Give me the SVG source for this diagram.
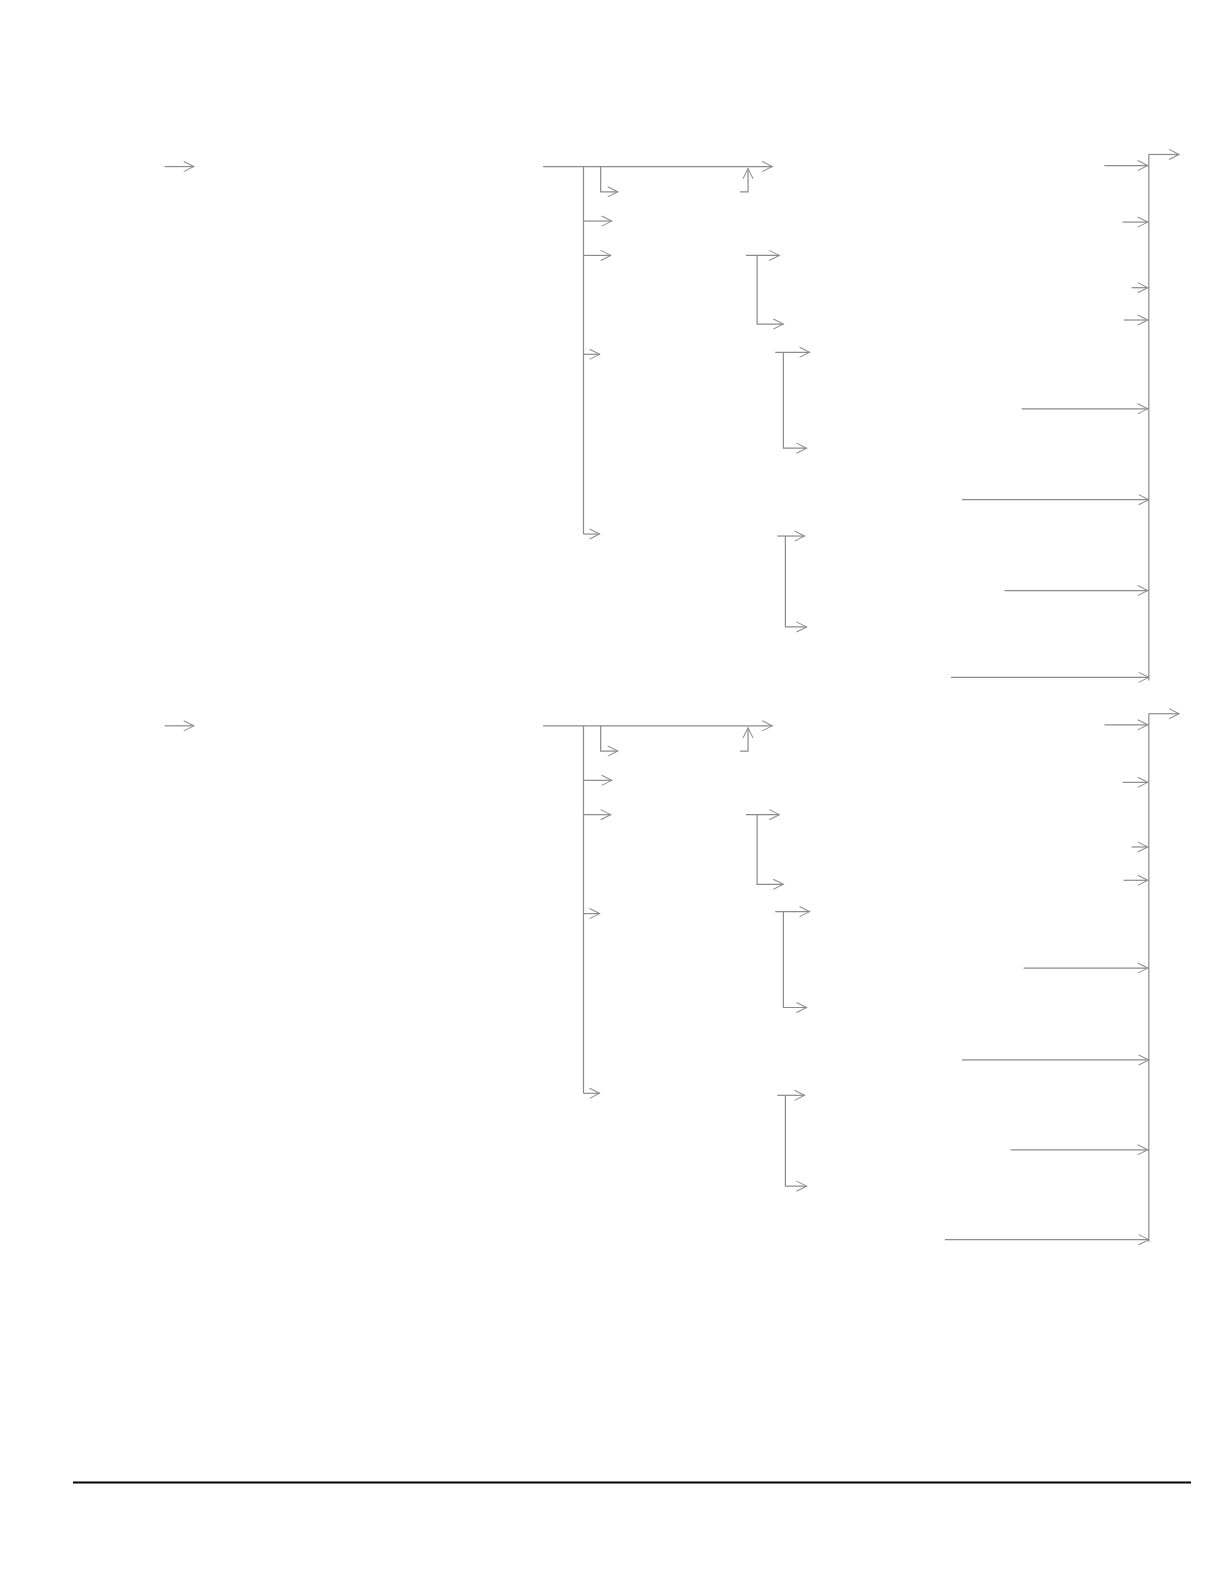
<svg xmlns="http://www.w3.org/2000/svg" width="1224" height="1582" viewBox="0 0 1224 1582">
<defs>
<marker id="ah" markerUnits="userSpaceOnUse" markerWidth="14" markerHeight="14" refX="11" refY="6" orient="auto" overflow="visible">
<path d="M1,1 L11,6 L1,11" fill="none" stroke="#8c8c8c" stroke-width="1"/>
</marker>
</defs>
<style>
.c{fill:none;stroke:#8c8c8c;stroke-width:1.2;marker-end:url(#ah)}
.l{fill:none;stroke:#8c8c8c;stroke-width:1.2}
</style>
<rect width="1224" height="1582" fill="#ffffff"/>
<g id="connectors" transform="scale(1.0095)">
<g id="block1">
<path class="c" d="M163,165 H192"/>
<path class="c" d="M538,165 H765"/>
<path class="l" d="M578,165 V529"/>
<path class="c" d="M595,165 V190 H612"/>
<path class="c" d="M578,219 H606"/>
<path class="c" d="M578,253 H605"/>
<path class="c" d="M578,351 H594"/>
<path class="c" d="M578,529 H594"/>
<path class="c" d="M733,190 H741 V167"/>
<path class="c" d="M739,253 H772"/>
<path class="c" d="M750,253 V321 H776"/>
<path class="c" d="M768,349 H802"/>
<path class="c" d="M776,349 V444 H799"/>
<path class="c" d="M770,531 H797"/>
<path class="c" d="M778,531 V621 H799"/>
<path class="l" d="M1138,153 V674"/>
<path class="c" d="M1138,153 H1168"/>
<path class="c" d="M1094,164 H1137"/>
<path class="c" d="M1112,220 H1137"/>
<path class="c" d="M1121,285 H1137"/>
<path class="c" d="M1113,317 H1137"/>
<path class="c" d="M1012,405 H1137"/>
<path class="c" d="M953,495 H1138"/>
<path class="c" d="M995,585 H1137"/>
<path class="c" d="M942,671 H1138"/>
</g>
<g id="block2">
<path class="c" d="M163,719 H192"/>
<path class="c" d="M538,719 H765"/>
<path class="l" d="M578,719 V1083"/>
<path class="c" d="M595,719 V744 H612"/>
<path class="c" d="M578,773 H606"/>
<path class="c" d="M578,807 H605"/>
<path class="c" d="M578,905 H594"/>
<path class="c" d="M578,1083 H594"/>
<path class="c" d="M733,744 H741 V721"/>
<path class="c" d="M739,807 H772"/>
<path class="c" d="M750,807 V876 H776"/>
<path class="c" d="M768,903 H802"/>
<path class="c" d="M776,903 V998 H799"/>
<path class="c" d="M770,1085 H797"/>
<path class="c" d="M778,1085 V1175 H799"/>
<path class="l" d="M1138,707 V1230"/>
<path class="c" d="M1138,707 H1168"/>
<path class="c" d="M1094,718 H1137"/>
<path class="c" d="M1112,775 H1137"/>
<path class="c" d="M1121,839 H1137"/>
<path class="c" d="M1113,872 H1137"/>
<path class="c" d="M1014,959 H1137"/>
<path class="c" d="M953,1050 H1138"/>
<path class="c" d="M1001,1139 H1137"/>
<path class="c" d="M936,1228 H1138"/>
</g>
</g>
<line x1="73" y1="1482.5" x2="1191" y2="1482.5" stroke="#000000" stroke-width="2"/>
</svg>
